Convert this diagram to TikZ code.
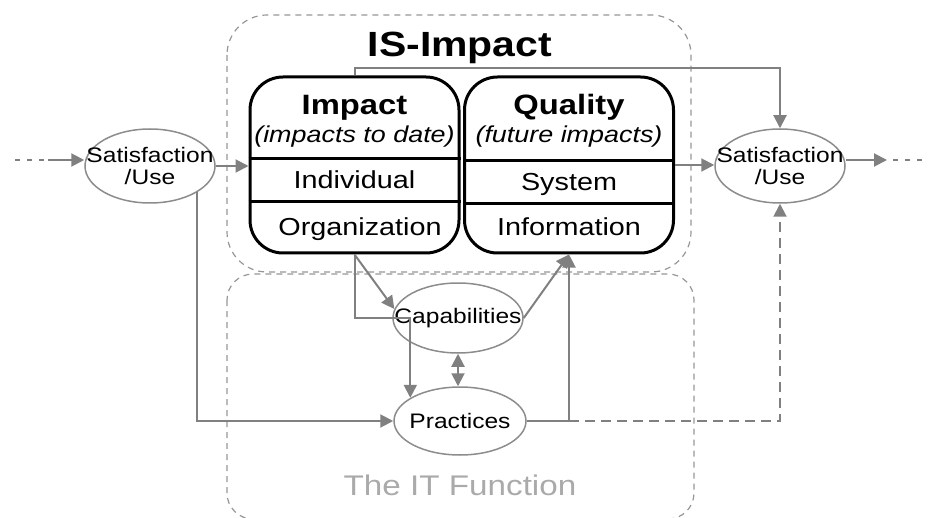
\documentclass[tikz,border=0pt]{standalone}
\usepackage{fontspec}
\setmainfont[FakeStretch=1.17]{Liberation Sans}
\usetikzlibrary{arrows.meta,shapes.geometric,calc}
\definecolor{lgray}{RGB}{128,128,128}
\definecolor{dgray}{RGB}{150,150,150}
\definecolor{tgray}{RGB}{170,170,170}
\definecolor{egray}{RGB}{140,140,140}
\begin{document}
\begin{tikzpicture}[x=0.5pt,y=-0.5pt,
 tip/.tip={Triangle[length=6.5pt,width=6.5pt]},
 conn/.style={draw=lgray,line width=1pt,-tip},
 dconn/.style={draw=lgray,line width=1pt,tip-tip},
 dotl/.style={draw=lgray,line width=1pt,dash pattern=on 2.5pt off 3.5pt},
 dashconn/.style={draw=lgray,line width=1pt,dash pattern=on 5pt off 3pt,-tip},
 regionA/.style={draw=dgray,line width=0.6pt,dash pattern=on 3pt off 2.5pt,rounded corners=20pt},
 regionB/.style={draw=dgray,line width=0.6pt,dash pattern=on 3pt off 2.5pt,rounded corners=13pt},
 oval/.style={ellipse,draw=egray,line width=0.75pt,minimum width=65pt,minimum height=37pt,inner sep=0pt},
 ovaltext/.style={inner sep=0pt,align=center,font=\fontsize{10.5}{11}\selectfont},
 panel/.style={draw=black,line width=1.5pt,rounded corners=16.5pt,minimum width=104.5pt,minimum height=88pt,inner sep=0pt},
 head/.style={font=\fontsize{14}{16}\selectfont\bfseries,inner sep=0pt,anchor=base},
 sub/.style={font=\fontsize{11.5}{13}\selectfont\itshape,inner sep=0pt,anchor=base},
 row/.style={font=\fontsize{12.3}{14}\selectfont,inner sep=0pt,anchor=base},
 divider/.style={draw=black,line width=1.5pt}
]
\useasboundingbox (0,0) rectangle (947,518);

% regions
\draw[regionA] (227,15) rectangle (691,272);
\draw[regionB] (227,274) rectangle (694,519);
\node[font=\fontsize{17.5}{20}\selectfont\bfseries,inner sep=0pt,anchor=base] (title) at (460,57) {IS-Impact};
\node[font=\fontsize{14.2}{16}\selectfont,text=tgray,inner sep=0pt,anchor=base] (itf) at (460,495) {The IT Function};

% panels
\node[panel] (imp) at (354.5,165) {};
\node[panel] (qual) at (569,165) {};
\coordinate (d1) at (0,159);
\coordinate (d2) at (0,202);
\coordinate (d3) at (0,161);
\coordinate (d4) at (0,204);
\draw[divider] (imp.west |- d1) -- (imp.east |- d1);
\draw[divider] (imp.west |- d2) -- (imp.east |- d2);
\draw[divider] (qual.west |- d3) -- (qual.east |- d3);
\draw[divider] (qual.west |- d4) -- (qual.east |- d4);

\node[head] (impT) at (354.5,115) {Impact};
\node[sub] (impS) at (354.5,143) {(impacts to date)};
\node[row] (indiv) at (354.5,189) {Individual};
\node[row] (org) at (360,235) {Organization};
\node[head] (qualT) at (569,115) {Quality};
\node[sub] (qualS) at (569,143) {(future impacts)};
\node[row] (sys) at (569,191) {System};
\node[row] (info) at (569,235) {Information};

% ellipses
\node[oval] (satL) at (150,166) {};
\node[ovaltext] (satLt) at (150,166) {Satisfaction\\/Use};
\node[oval] (satR) at (780,166) {};
\node[ovaltext] (satRt) at (780,166) {Satisfaction\\/Use};
\node[oval,minimum height=35pt] (cap) at (458,318) {};
\node[ovaltext] (capt) at (458,318) {Capabilities};
\node[oval,minimum width=66pt,minimum height=34pt] (prac) at (460,421) {};
\node[ovaltext] (pract) at (460,421) {Practices};

% connectors
\coordinate (inL) at (48,160);
\coordinate (dotL) at (15,160);
\draw[dotl] (dotL) -- (44,160);
\draw[conn] (inL) -- (inL -| satL.west);
\draw[conn] (satL.east) -- (satL.east -| imp.west);
\draw[conn] (satL.-29) -- (satL.-29 |- prac.west) -- (prac.west);

\draw[conn] (qual.east) -- (qual.east -| satR.west);
\coordinate (outR) at (887,160);
\draw[conn] (outR -| satR.east) -- (outR);
\draw[dotl] (893,160) -- (925,160);

\coordinate (topY) at (0,68);
\draw[conn] (imp.north) -- (imp.north |- topY) -| (satR.north);

\draw[conn] (imp.south) -- (cap.172);
\draw[conn] (imp.south) |- (cap.west) -| (prac.155);
\draw[conn] (cap.east) -- (qual.south);
\draw[conn] (prac.east) -| (qual.south);
\draw[dashconn] (prac.east -| qual.south) -| (satR.south);
\draw[dconn] (cap.south) -- (cap.south |- prac.north);
\end{tikzpicture}
\end{document}
